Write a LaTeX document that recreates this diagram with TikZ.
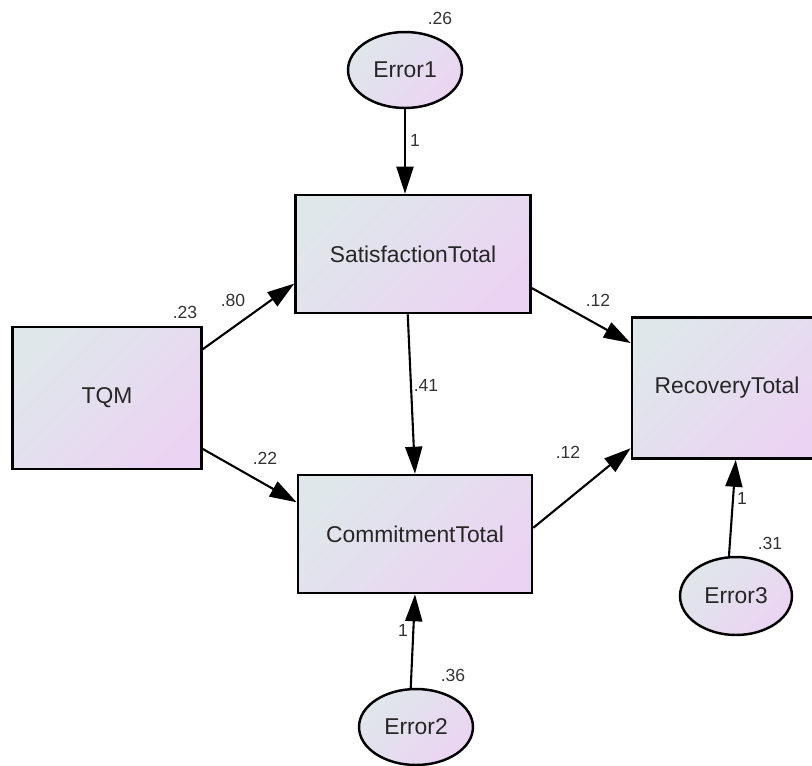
\documentclass[tikz,border=0pt]{standalone}
\usepackage{fontspec}
\setmainfont{Liberation Sans}
\usetikzlibrary{arrows.meta,shapes.geometric}

\definecolor{fillA}{HTML}{DFE7EA}
\definecolor{fillB}{HTML}{EBD4F3}

\begin{document}
\begin{tikzpicture}[x=0.02cm,y=-0.02cm]
        \tikzset{observed/.style={draw,line width=1.5pt,rectangle,
            top color=fillA,bottom color=fillB,shading angle=45,
            font=\fontsize{13}{15}\selectfont,text=black!85},
          unique/.style={draw,line width=1.4pt,ellipse,inner sep=0pt,
            top color=fillA,bottom color=fillB,shading angle=45,
            minimum width=2.28cm,minimum height=1.52cm,
            font=\fontsize{13}{15}\selectfont,text=black!85},
          est/.style={font=\fontsize{10}{12}\selectfont,text=black!80,inner sep=0pt},
          effect/.style={draw,line width=1.2pt,-{Triangle[length=0.54cm,width=0.34cm]}}}
        \useasboundingbox (0,0) rectangle (812,765);
        % observed variables
        \node[observed,minimum width=3.78cm,minimum height=2.84cm] (tqm) at (107,398) {TQM};
        \node[observed,minimum width=4.7cm,minimum height=2.36cm] (sat) at (413,254) {SatisfactionTotal};
        \node[observed,minimum width=4.68cm,minimum height=2.36cm] (comm) at (415,534) {CommitmentTotal};
        \node[observed,minimum width=3.8cm,minimum height=2.82cm] (rec) at (727,388) {RecoveryTotal};
        % error terms
        \node[unique] (e1) at (405,70) {Error1};
        \node[unique] (e2) at (416,727) {Error2};
        \node[unique,minimum width=2.24cm,minimum height=1.56cm] (e3) at (736,596) {Error3};
        % paths
        \draw[effect] (e1.south) -- (sat.north -| e1.south);
        \draw[effect] ([xshift=-3]e2.north) -- (comm.south);
        \draw[effect] ([xshift=-4]e3.north) -- ([xshift=5]rec.south);
        \draw[effect] (tqm.27) -- (sat.194);
        \draw[effect] (tqm.332) -- (comm.165);
        \draw[effect] ([xshift=-3]sat.south) -- (comm.north);
        \draw[effect] (sat.344) -- (rec.155);
        \draw[effect] (comm.3) -- (rec.212);
        % estimates
        \node[est] (v1) at (440,18) {.26};
        \node[est] (w1) at (415,140) {1};
        \node[est] (v2) at (185,312) {.23};
        \node[est] (b1) at (233,300) {.80};
        \node[est] (b2) at (265,458) {.22};
        \node[est] (b3) at (598,300) {.12};
        \node[est] (b4) at (568,452) {.12};
        \node[est] (b5) at (426,385) {.41};
        \node[est] (v3) at (453,675) {.36};
        \node[est] (w2) at (403,630) {1};
        \node[est] (v4) at (770,543) {.31};
        \node[est] (w3) at (742,498) {1};
      \end{tikzpicture}
\end{document}
